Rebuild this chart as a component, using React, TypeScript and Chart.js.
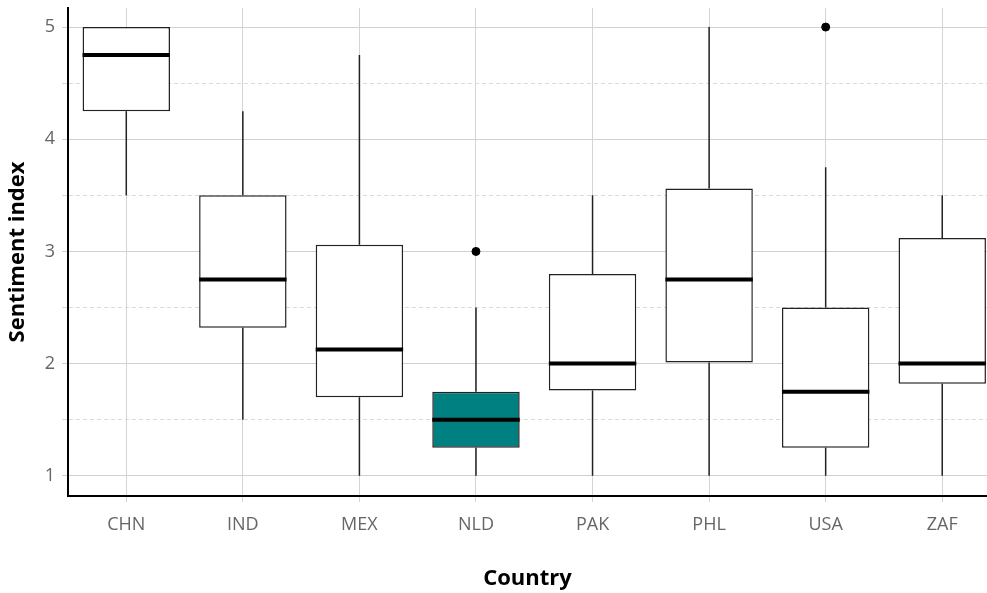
import React, { useEffect, useRef } from 'react';
import { Chart, registerables } from 'chart.js';

Chart.register(...registerables);

const countries = ['CHN', 'IND', 'MEX', 'NLD', 'PAK', 'PHL', 'USA', 'ZAF'];
const whiskerLow = [3.5, 1.5, 1, 1, 1, 1, 1, 1];
const q1 = [4.25, 2.32, 1.7, 1.25, 1.76, 2.01, 1.25, 1.82];
const median = [4.75, 2.75, 2.125, 1.5, 2, 2.75, 1.75, 2];
const q3 = [5, 3.5, 3.06, 1.75, 2.8, 3.56, 2.5, 3.12];
const whiskerHigh = [5, 4.25, 4.75, 2.5, 3.5, 5, 3.75, 3.5];
const outlierCountry = ['NLD', 'USA'];
const outlierValue = [3, 5];
const yTicks = [1, 1.5, 2, 2.5, 3, 3.5, 4, 4.5, 5];
const highlightCountry = 'NLD';

const boxExtras = {
  id: 'boxExtras',
  afterDatasetsDraw(chart: any) {
    const meta = chart.getDatasetMeta(0);
    const y = chart.scales.y;
    const ctx = chart.ctx;
    ctx.save();
    meta.data.forEach((bar: any, i: number) => {
      const x = bar.x;
      const half = bar.width / 2;
      ctx.strokeStyle = '#222222';
      ctx.lineWidth = 1.5;
      ctx.beginPath();
      ctx.moveTo(x, y.getPixelForValue(q3[i]));
      ctx.lineTo(x, y.getPixelForValue(whiskerHigh[i]));
      ctx.moveTo(x, y.getPixelForValue(q1[i]));
      ctx.lineTo(x, y.getPixelForValue(whiskerLow[i]));
      ctx.stroke();
      const my = y.getPixelForValue(median[i]);
      ctx.strokeStyle = '#000000';
      ctx.lineWidth = 4;
      ctx.beginPath();
      ctx.moveTo(x - half, my);
      ctx.lineTo(x + half, my);
      ctx.stroke();
    });
    ctx.restore();
  },
};

export default function App() {
  const ref = useRef<HTMLCanvasElement>(null);
  useEffect(() => {
    if (!ref.current) return;
    Chart.defaults.font.family = '"Open Sans", sans-serif';
    const chart = new Chart(ref.current, {
      type: 'bar',
      data: {
        datasets: [
          {
            type: 'bar',
            data: countries.map((c, i) => ({ x: i, y: [q1[i], q3[i]] })) as any,
            backgroundColor: countries.map((c) => (c === highlightCountry ? '#008080' : '#ffffff')),
            borderColor: '#222222',
            borderWidth: 1.5,
            borderSkipped: false,
            barPercentage: 0.75,
            categoryPercentage: 1,
            order: 2,
          } as any,
          {
            type: 'scatter',
            data: outlierCountry.map((c, k) => ({ x: countries.indexOf(c), y: outlierValue[k] })),
            backgroundColor: '#000000',
            borderColor: '#000000',
            pointRadius: 4,
            order: 1,
          } as any,
        ],
      },
      options: {
        responsive: false,
        animation: false,
        devicePixelRatio: 1,
        layout: { autoPadding: false, padding: { top: 8, left: 0, right: 0, bottom: 0 } },
        plugins: { legend: { display: false }, tooltip: { enabled: false } },
        scales: {
          x: {
            type: 'linear',
            min: -0.5,
            max: 7.384,
            offset: false,
            afterBuildTicks: (s: any) => {
              s.ticks = countries.map((_, i) => ({ value: i }));
            },
            afterFit: (s: any) => {
              s.height = 97;
              s.paddingLeft = 0;
              s.paddingRight = 0;
            },
            ticks: {
              callback: (v: any) => countries[v as number] ?? '',
              color: '#666666',
              font: { size: 18 },
              padding: 12,
              maxRotation: 0,
              autoSkip: false,
            },
            grid: {
              offset: false,
              color: '#d4d4d4',
              lineWidth: 1,
              drawTicks: true,
              tickLength: 6,
              tickColor: '#d4d4d4',
            },
            border: { display: true, color: '#000000', width: 2 },
            title: {
              display: true,
              text: 'Country',
              color: '#000000',
              font: { size: 22, weight: 'bold' },
              padding: { top: 0, bottom: 1 },
            },
          },
          y: {
            type: 'linear',
            min: 0.82,
            max: 5.17,
            afterBuildTicks: (s: any) => {
              s.ticks = yTicks.map((v) => ({ value: v }));
            },
            afterFit: (s: any) => {
              s.width = 68;
              s.paddingTop = 0;
              s.paddingBottom = 0;
            },
            ticks: {
              callback: (v: any) => (Number.isInteger(v) ? String(v) : ''),
              color: '#666666',
              font: { size: 18 },
              padding: 7,
            },
            grid: {
              color: (c: any) => (c.tick && !Number.isInteger(c.tick.value) ? '#d9d9d9' : '#d0d0d0'),
              lineWidth: 1,
              drawTicks: true,
              tickLength: 6,
              tickColor: (c: any) => (c.tick && !Number.isInteger(c.tick.value) ? '#d9d9d9' : '#d0d0d0'),
            },
            border: {
              display: true,
              color: '#000000',
              width: 2,
              dash: (c: any) => (c.tick && !Number.isInteger(c.tick.value) ? [4, 3] : []),
            } as any,
            title: {
              display: true,
              text: 'Sentiment index',
              color: '#000000',
              font: { size: 22, weight: 'bold' },
              padding: { top: 5, bottom: 0 },
            },
          },
        },
      } as any,
      plugins: [boxExtras],
    });
    return () => chart.destroy();
  }, []);
  return (
    <div style={{ position: 'absolute', left: 0, top: 0, width: 987, height: 593, background: '#ffffff' }}>
      <canvas ref={ref} width={987} height={593} />
    </div>
  );
}
